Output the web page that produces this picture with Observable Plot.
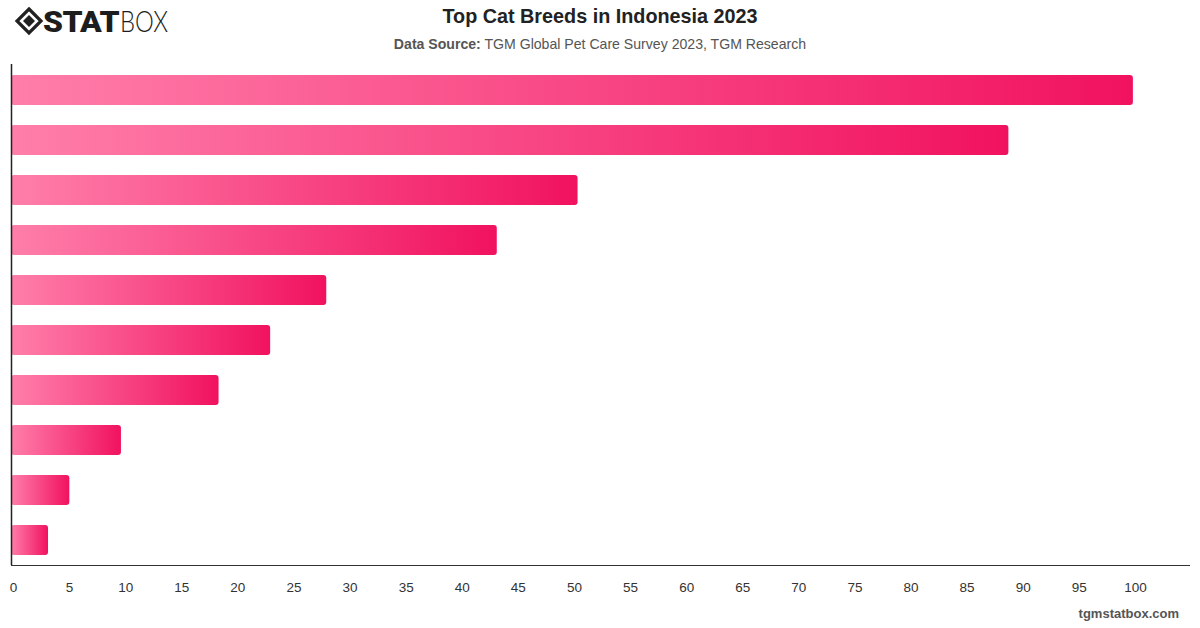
<!DOCTYPE html>
<html>
<head>
<meta charset="utf-8">
<script src="https://cdn.jsdelivr.net/npm/d3@7"></script>
<script src="https://cdn.jsdelivr.net/npm/@observablehq/plot@0.6"></script>
<style>
  html, body { margin: 0; padding: 0; background: #fff; }
  body { width: 1200px; height: 628px; position: relative; overflow: hidden;
         font-family: "Liberation Sans", Arial, sans-serif; }
  #logo { position: absolute; left: 10px; top: 4px; }
  #title { position: absolute; left: 0; width: 1200px; top: 5px; text-align: center;
           font-size: 19.8px; font-weight: bold; color: #222; }
  #subtitle { position: absolute; left: 0; width: 1200px; top: 36px; text-align: center;
              font-size: 14.1px; color: #555; }
  #subtitle b { color: #555; }
  #chart { position: absolute; left: 0; top: 55px; }
  #footer { position: absolute; right: 21px; top: 606px; font-size: 13px; font-weight: bold; color: #555; }
</style>
</head>
<body>
<svg id="logo" width="200" height="40" viewBox="0 0 200 40">
  <g transform="translate(19,17)">
    <path d="M0,-12 L12,0 L0,12 L-12,0 Z" fill="none" stroke="#222" stroke-width="3.2"/>
    <path d="M0,-6 L6,0 L0,6 L-6,0 Z" fill="#222"/>
  </g>
  <g transform="translate(33,28) scale(1.1,1)">
    <text x="0" y="0" font-family="Roboto, 'DejaVu Sans', sans-serif" font-weight="900" font-size="29" fill="#1d1d1d" letter-spacing="-0.5">STAT</text>
  </g>
  <g transform="translate(110,28) scale(0.82,1)">
    <text x="0" y="0" font-family="Lato, 'Liberation Sans', sans-serif" font-weight="300" font-size="29" fill="#1d1d1d">BOX</text>
  </g>
</svg>
<div id="title">Top Cat Breeds in Indonesia 2023</div>
<div id="subtitle"><b>Data Source:</b> TGM Global Pet Care Survey 2023, TGM Research</div>
<div id="chart"></div>
<div id="footer">tgmstatbox.com</div>
<script>
// Breed ranks (labels are not shown on the chart) and their index values
const ranks = ["1", "2", "3", "4", "5", "6", "7", "8", "9", "10"];
const values = [100, 88.9, 50.5, 43.3, 28.1, 23.1, 18.5, 9.8, 5.2, 3.3];
const xTicks = d3.range(0, 101, 5);

const data = ranks.map((r, i) => ({rank: r, value: values[i]}));

const chart = Plot.plot({
  width: 1200,
  height: 560,
  marginTop: 9,
  marginBottom: 50,
  marginLeft: 11,
  marginRight: 11,
  style: {fontFamily: "'Liberation Sans', Arial, sans-serif", fontSize: "13px", color: "#333", background: "transparent"},
  x: {domain: [0, 105], ticks: xTicks, tickSize: 0, tickPadding: 17, line: true, label: null},
  y: {domain: ranks, axis: null, paddingInner: 0.4, paddingOuter: 0.2},
  marks: [
    Plot.barX(data, {x: "value", y: "rank", fill: "url(#barGradient)", rx: 3}),
    Plot.ruleX([0], {stroke: "#222", strokeWidth: 1.5})
  ]
});

// Horizontal pink gradient applied to each bar's own bounding box
const ns = "http://www.w3.org/2000/svg";
const defs = document.createElementNS(ns, "defs");
const grad = document.createElementNS(ns, "linearGradient");
grad.setAttribute("id", "barGradient");
grad.setAttribute("x1", "0"); grad.setAttribute("x2", "1");
grad.setAttribute("y1", "0"); grad.setAttribute("y2", "0");
[["0%", "#ff7eaa"], ["100%", "#f1125f"]].forEach(([o, c]) => {
  const s = document.createElementNS(ns, "stop");
  s.setAttribute("offset", o); s.setAttribute("stop-color", c);
  grad.appendChild(s);
});
defs.appendChild(grad);
chart.insertBefore(defs, chart.firstChild);
chart.querySelectorAll("[aria-label='x-axis'] path, [aria-label='x-axis'] line").forEach(el => {
  el.setAttribute("stroke", "#222");
  el.setAttribute("stroke-width", "1.5");
});
// Tick labels: slightly larger and nudged right
chart.querySelectorAll("[aria-label='x-axis'], [aria-label='x-axis tick label']").forEach(g => {
  g.setAttribute("font-size", "13.5");
  g.style.fontSize = "13.5px";
});
chart.querySelectorAll("[aria-label='x-axis'] text, [aria-label='x-axis tick label'] text").forEach(el => {
  el.setAttribute("dx", "2");
  el.style.fontSize = "13.5px";
});
document.getElementById("chart").appendChild(chart);
</script>
</body>
</html>
